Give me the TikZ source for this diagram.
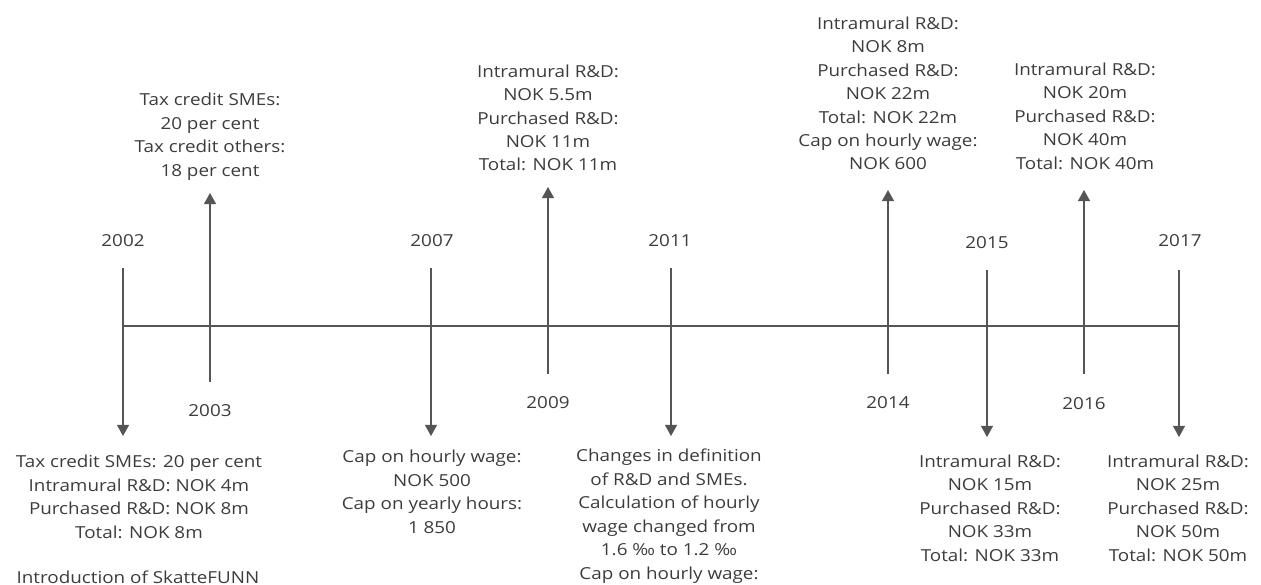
\documentclass[tikz,border=0pt]{standalone}
\usepackage{fontspec}
\setmainfont{Open Sans}
\usetikzlibrary{arrows.meta}
\definecolor{txt}{HTML}{3C3C3C}
\definecolor{ln}{HTML}{555555}
\begin{document}
\begin{tikzpicture}[x=0.75pt,y=-0.75pt,
  every node/.style={inner sep=0pt,outer sep=0pt,text=txt,xscale=1.14,font=\fontsize{12.4}{17.6}\selectfont},
  year/.style={anchor=base},
  info/.style={anchor=base,align=center},
  axis/.style={draw=ln,line width=0.9pt},
  tick/.style={draw=ln,line width=0.9pt,-{Triangle[width=9pt,length=8.3pt]}}]
\useasboundingbox (0,0) rectangle (1261,585);
% axis
\coordinate (L) at (123,326);
\coordinate (R) at (1179,326);
\draw[axis] (L) -- (R);
% year ticks
\coordinate (s2002) at (123,268); \coordinate (e2002) at (123,436);
\coordinate (s2003) at (210,382); \coordinate (e2003) at (210,193);
\coordinate (s2007) at (431,268); \coordinate (e2007) at (431,436);
\coordinate (s2009) at (548,374); \coordinate (e2009) at (548,187);
\coordinate (s2011) at (671,268); \coordinate (e2011) at (671,436);
\coordinate (s2014) at (888,374); \coordinate (e2014) at (888,190);
\coordinate (s2015) at (987,270); \coordinate (e2015) at (987,437);
\coordinate (s2016) at (1084,374); \coordinate (e2016) at (1084,190);
\coordinate (s2017) at (1179,270); \coordinate (e2017) at (1179,437);
\foreach \y in {2002,2003,2007,2009,2011,2014,2015,2016,2017}
  \draw[tick] (s\y) -- (e\y);
% year labels
\node[year] (y2002) at (123,246) {2002};
\node[year] (y2003) at (210,416) {2003};
\node[year] (y2007) at (432,246) {2007};
\node[year] (y2009) at (548,408) {2009};
\node[year] (y2011) at (670,246) {2011};
\node[year] (y2014) at (888,408) {2014};
\node[year] (y2015) at (987,248) {2015};
\node[year] (y2016) at (1084,409) {2016};
\node[year] (y2017) at (1180,246) {2017};
% info above (base = last line)
\node[info] (t2003) at (210,176) {Tax credit SMEs:\\20 per cent\\Tax credit others:\\18 per cent};
\node[info] (t2009) at (548,171) {Intramural R\&D:\\NOK 5.5m\\Purchased R\&D:\\NOK 11m\\Total: NOK 11m};
\node[info] (t2014) at (888,170) {Intramural R\&D:\\NOK 8m\\Purchased R\&D:\\NOK 22m\\Total: NOK 22m\\Cap on hourly wage:\\NOK 600};
\node[info] (t2016) at (1085,169) {Intramural R\&D:\\NOK 20m\\Purchased R\&D:\\NOK 40m\\Total: NOK 40m};
% info below (base = last line)
\node[info] (t2002) at (139,538) {Tax credit SMEs: 20 per cent\\Intramural R\&D: NOK 4m\\Purchased R\&D: NOK 8m\\Total: NOK 8m};
\node[info] (t2002b) at (138,583) {Introduction of SkatteFUNN};
\node[info] (t2007) at (432,533) {Cap on hourly wage:\\NOK 500\\Cap on yearly hours:\\1 850};
\node[info] (t2011) at (669,579) {Changes in definition\\of R\&D and SMEs.\\Calculation of hourly\\wage changed from\\1.6 ‰ to 1.2 ‰\\Cap on hourly wage:};
\node[info] (t2015) at (990,561) {Intramural R\&D:\\NOK 15m\\Purchased R\&D:\\NOK 33m\\Total: NOK 33m};
\node[info] (t2017) at (1178,561) {Intramural R\&D:\\NOK 25m\\Purchased R\&D:\\NOK 50m\\Total: NOK 50m};
\end{tikzpicture}
\end{document}
